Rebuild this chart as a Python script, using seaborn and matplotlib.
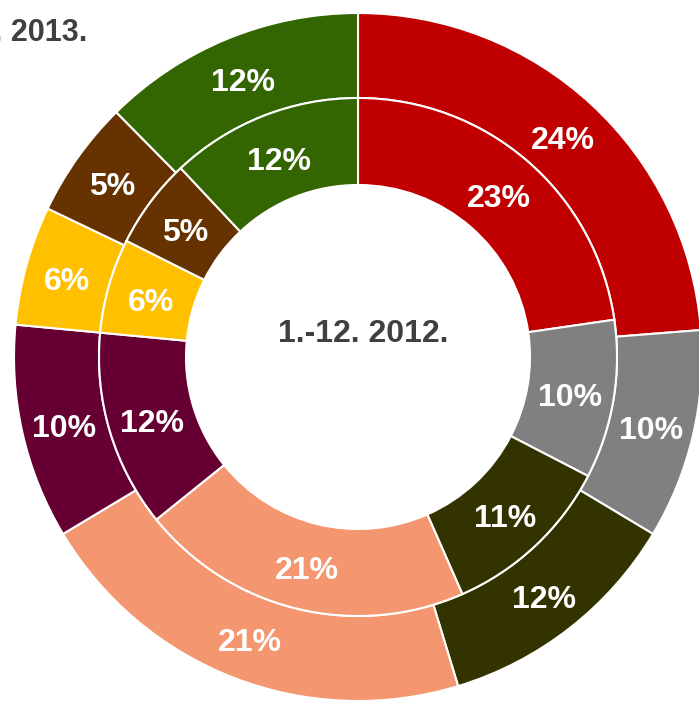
import seaborn as sns
import matplotlib
matplotlib.use("Agg")
import matplotlib.pyplot as plt

# data: outer ring = 2013, inner ring = 2012 (wedge sizes, labels as printed)
categories = ['A', 'B', 'C', 'D', 'E', 'F', 'G', 'H']
share_2013 = [23.75, 9.85, 11.7, 21.1, 10.1, 5.6, 5.5, 12.4]
share_2012 = [22.7, 9.9, 10.8, 20.8, 12.3, 5.9, 5.6, 12.0]
labels_2013 = ['24%', '10%', '12%', '21%', '10%', '6%', '5%', '12%']
labels_2012 = ['23%', '10%', '11%', '21%', '12%', '6%', '5%', '12%']
colors = ['#C00000', '#808080', '#333300', '#F4966F', '#660033', '#FFC000', '#663300', '#336600']
outer_title = '1.-12. 2013.'
inner_title = '1.-12. 2012.'

sns.set_theme(style='white')
plt.rcParams['font.family'] = ['Liberation Sans Narrow', 'Liberation Sans', 'DejaVu Sans']
plt.rcParams['font.weight'] = 'bold'

fig = plt.figure(figsize=(6.99, 7.01), dpi=100)
ax = fig.add_axes([0, 0, 1, 1])

R = 344.0  # outer radius in px
cx, cy = 358, 357
r_mid = 259 / R
r_hole = 172 / R

wp = dict(edgecolor='white', linewidth=1.5)
tp = dict(color='white', fontsize=23, fontweight='bold')

w1, t1 = ax.pie(share_2013, colors=colors, radius=1.0, startangle=90, counterclock=False,
                labels=labels_2013, labeldistance=(1 + r_mid) / 2,
                wedgeprops=dict(width=1 - r_mid, **wp), textprops=tp)
w2, t2 = ax.pie(share_2012, colors=colors, radius=r_mid, startangle=90, counterclock=False,
                labels=labels_2012, labeldistance=(r_mid + r_hole) / 2 / r_mid,
                wedgeprops=dict(width=r_mid - r_hole, **wp), textprops=tp)
# center labels, nudge a few px down like the original
for t in t1 + t2:
    t.set_ha('center')
    t.set_va('center')
    x, y = t.get_position()
    t.set_position((x, y - 5 / R))

ax.set_xlim(-cx / R, (699 - cx) / R)
ax.set_ylim(-(701 - cy) / R, cy / R)
ax.set_aspect('equal')
ax.axis('off')

ax.text(0.015, 0.067, inner_title, ha='center', va='center', fontsize=23,
        fontweight='bold', color='#404040')
fig.text(87 / 699, 1 - 33 / 701, outer_title, ha='right', va='center', fontsize=22,
         fontweight='bold', color='#404040')

fig.savefig('out.png', dpi=100)
